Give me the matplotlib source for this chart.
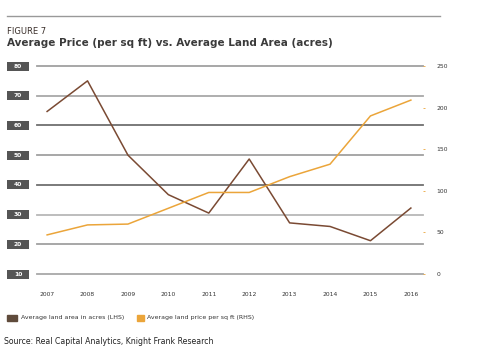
import matplotlib
matplotlib.use("Agg")
import matplotlib.pyplot as plt
from matplotlib.patches import Rectangle
from matplotlib.lines import Line2D

years = [2007, 2008, 2009, 2010, 2011, 2012, 2013, 2014, 2015, 2016]
land_area = [64.7, 75.0, 50.0, 36.7, 30.5, 48.7, 27.2, 26.0, 21.2, 32.2]
land_price = [47, 59, 60, 79, 98, 98, 117, 132, 190, 209]
left_ticks = [10, 20, 30, 40, 50, 60, 70, 80]
right_ticks = [0, 50, 100, 150, 200, 250]
series_labels = ["Average land area in acres (LHS)", "Average land price per sq ft (RHS)"]
fig_label = "FIGURE 7"
title = "Average Price (per sq ft) vs. Average Land Area (acres)"
source = "Source: Real Capital Analytics, Knight Frank Research"

W, H = 481, 361
fig = plt.figure(figsize=(W / 100, H / 100), dpi=100)
plt.rcParams['font.family'] = ['DejaVu Sans']

BROWN = '#7a4a33'
BROWN_LEG = '#5f4b3b'
ORANGE = '#eba53a'
DARK = '#333333'

# axes placement in pixels
x0, x1 = 37, 423
ytop, ybot = 66, 274
ax = fig.add_axes([x0 / W, 1 - ybot / H, (x1 - x0) / W, (ybot - ytop) / H])
ax.set_xlim(2006.75, 2016.3)
ax.set_ylim(10, 80)
for s in ax.spines.values():
    s.set_visible(False)
ax.set_xticks(years)
ax.set_xticklabels([str(y) for y in years], fontsize=4.3, color=DARK)
ax.tick_params(axis='x', length=0, pad=13)
ax.set_yticks(left_ticks)
ax.set_yticklabels([])
ax.tick_params(axis='y', length=0)

grid_colors = ['#a8a8a8', '#a0a0a0', '#b8b8b8', '#707070', '#a0a0a0', '#707070', '#a8a8a8', '#a0a0a0']
for v, c in zip(left_ticks, grid_colors):
    ax.axhline(v, color=c, lw=1.3, clip_on=False, zorder=1)

# left tick label boxes (box from x=7 to 29 px, ~9 px tall)
bx0, bx1, bh = 7, 29, 9
for v in left_ticks:
    ypx = ybot - (v - 10) / 70 * (ybot - ytop)
    fig.add_artist(Rectangle((bx0 / W, 1 - (ypx + bh / 2) / H), (bx1 - bx0) / W, bh / H,
                             color='#555555', lw=0))
    fig.text((bx0 + bx1) / 2 / W, 1 - ypx / H, str(v), fontsize=4.3, color='white',
             fontweight='bold', ha='center', va='center')

ax.plot(years, land_area, color=BROWN, lw=1.1, zorder=3, clip_on=False)

ax2 = ax.twinx()
ax2.set_ylim(0, 250)
for s in ax2.spines.values():
    s.set_visible(False)
ax2.set_yticks(right_ticks)
ax2.set_yticklabels([str(v) for v in right_ticks], fontsize=4.3, color=DARK)
ax2.tick_params(axis='y', length=1.5, width=0.6, color=ORANGE, pad=8)
ax2.plot(years, land_price, color=ORANGE, lw=1.1, zorder=3, clip_on=False)

# header
fig.add_artist(Line2D([7 / W, 440 / W], [1 - 16 / H, 1 - 16 / H], color='#999999', lw=1.0))
fig.text(7 / W, 1 - 31 / H, fig_label, fontsize=6, color='#3a2f2a', va='center', ha='left')
fig.text(7 / W, 1 - 43 / H, title, fontsize=7.5, fontweight='bold', color='#3a3a3a', va='center', ha='left')

# legend
fig.add_artist(Rectangle((7 / W, 1 - 321 / H), 10 / W, 6 / H, color=BROWN_LEG))
fig.text(21 / W, 1 - 318 / H, series_labels[0], fontsize=4.5, color=DARK, va='center', ha='left')
fig.add_artist(Rectangle((137 / W, 1 - 321 / H), 7 / W, 6 / H, color=ORANGE))
fig.text(147 / W, 1 - 318 / H, series_labels[1], fontsize=4.5, color=DARK, va='center', ha='left')

fig.text(4 / W, 1 - 341 / H, source, fontsize=5.6, color='#222222', va='center', ha='left')

fig.savefig('out.png', dpi=100)
